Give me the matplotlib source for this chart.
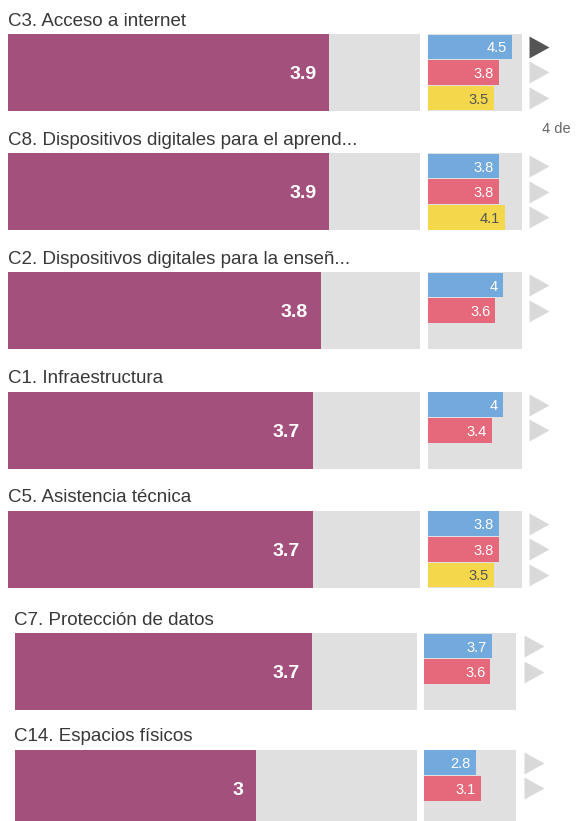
import matplotlib
matplotlib.use("Agg")
import matplotlib.pyplot as plt

# ---------------- data ----------------
categories = [
    "C3. Acceso a internet",
    "C8. Dispositivos digitales para el aprend...",
    "C2. Dispositivos digitales para la enseñ...",
    "C1. Infraestructura",
    "C5. Asistencia técnica",
    "C7. Protección de datos",
    "C14. Espacios físicos",
]
overall_values = [3.9, 3.9, 3.8, 3.7, 3.7, 3.7, 3.0]
blue_values = [4.5, 3.8, 4.0, 4.0, 3.8, 3.7, 2.8]
red_values = [3.8, 3.8, 3.6, 3.4, 3.8, 3.6, 3.1]
yellow_values = [3.5, 4.1, None, None, 3.5, None, None]
scale_max = 5
page_label = "4 de"

# ---------------- style / layout ----------------
PURPLE = "#A4507D"
BG = "#E0E0E0"
BLUE = "#72AADD"
RED = "#E5697A"
YELLOW = "#F4D74B"
TRI_LIGHT = "#D9D9D9"
TRI_DARK = "#555555"
TITLE_C = "#383838"

plt.rcParams["font.family"] = ["Liberation Sans", "DejaVu Sans"]

W, H = 579, 821
fig = plt.figure(figsize=(W / 100, H / 100), dpi=100)
fig.patch.set_facecolor("white")

tops = [34, 153.3, 272.3, 391.7, 510.7, 633.3, 749.7]
bar_h = 77
main_x = [(8, 420)] * 5 + [(14.5, 417)] * 2
right_x = [(427.7, 521.7)] * 5 + [(424, 516)] * 2
tri_x = [(529, 549)] * 5 + [(523.5, 543.5)] * 2


def add_ax(x0, x1, top, h):
    ax = fig.add_axes([x0 / W, 1 - (top + h) / H, (x1 - x0) / W, h / H])
    ax.set_xticks([])
    ax.set_yticks([])
    for s in ax.spines.values():
        s.set_visible(False)
    return ax


tri_marker = [(-10, 11), (10, 0), (-10, -11)]

for i, cat in enumerate(categories):
    top = tops[i]
    # title
    fig.text(main_x[i][0] / W, 1 - (top - 8.5) / H, cat, va="baseline", ha="left",
             fontsize=13.5, color=TITLE_C)

    # main bar
    ax = add_ax(main_x[i][0], main_x[i][1], top, bar_h)
    ax.set_facecolor(BG)
    ax.set_xlim(0, scale_max)
    ax.set_ylim(-0.5, 0.5)
    v = overall_values[i]
    ax.barh(0, v, height=1, color=PURPLE)
    ax.annotate(f"{v:g}", xy=(v, 0), xytext=(-13, 0), textcoords="offset pixels",
                ha="right", va="center_baseline", color="white", fontweight="bold",
                fontsize=14)

    # right small bars
    axr = add_ax(right_x[i][0], right_x[i][1], top, bar_h)
    axr.set_facecolor(BG)
    axr.set_xlim(0, scale_max)
    axr.set_ylim(2.5, -0.5)
    rows = [(blue_values[i], BLUE, "white"),
            (red_values[i], RED, "white"),
            (yellow_values[i], YELLOW, "#555555")]
    n_present = 0
    for r, (val, col, tcol) in enumerate(rows):
        if val is None:
            continue
        n_present += 1
        axr.barh(r, val, height=0.96, color=col)
        axr.annotate(f"{val:g}", xy=(val, r), xytext=(-5, 0), textcoords="offset pixels",
                     ha="right", va="center_baseline", color=tcol, fontsize=10.5)

    # triangles
    axt = add_ax(tri_x[i][0], tri_x[i][1], top, bar_h)
    axt.patch.set_alpha(0)
    axt.set_xlim(0, 1)
    axt.set_ylim(2.5, -0.5)
    for r in range(n_present):
        col = TRI_DARK if (i == 0 and r == 0) else TRI_LIGHT
        axt.plot([0.5], [r], ls="none", marker=tri_marker, ms=15.8, color=col,
                 markeredgewidth=0)

fig.text(542 / W, 1 - 129 / H, page_label, va="center", ha="left", fontsize=10.5,
         color="#666666")

fig.savefig("out.png", dpi=100)
